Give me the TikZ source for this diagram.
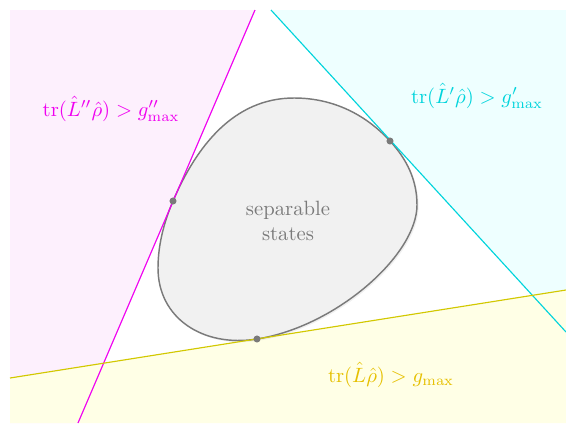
\documentclass[tikz,border=0pt]{standalone}
\usetikzlibrary{shadows}
\definecolor{sepMagenta}{HTML}{F000F0}
\definecolor{sepCyan}{HTML}{00D4DC}
\definecolor{sepYellow}{HTML}{D2C800}
\definecolor{sepGold}{HTML}{E6C000}
\definecolor{sepGray}{HTML}{7A7A7A}
\definecolor{sepPaleM}{HTML}{FDF0FD}
\definecolor{sepPaleC}{HTML}{EEFFFF}
\definecolor{sepPaleY}{HTML}{FFFFE6}
\definecolor{sepBlob}{HTML}{F1F1F1}
\tikzset{
  sep cut/.style={line width=0.55pt},
  sep dot/.style={circle, fill=sepGray, inner sep=0pt, minimum size=3.4pt},
  sep label/.style={inner sep=0pt},
}

\begin{document}
\begin{tikzpicture}[x=0.017cm, y=-0.017cm,
  blob/.style={draw=sepGray, fill=sepBlob, line width=0.7pt,
    drop shadow={opacity=0.12, shadow xshift=0.8pt, shadow yshift=-0.8pt}},
  blob text/.style={text=sepGray, align=center, font=\normalsize}
]
  \useasboundingbox (0,0) rectangle (566,423);

  % half-planes
  \fill[sepPaleM] (10,10) -- (255,10) -- (78,423) -- (10,423) -- cycle;
  \fill[sepPaleC] (271,10) -- (566,10) -- (566,332) -- cycle;
  \fill[sepPaleY] (10,378) -- (566,290) -- (566,423) -- (10,423) -- cycle;

  % convex set of separable states
  \draw[blob] (173,201) .. controls (196.6,145.9) and (234,98) .. (294,98)
    .. controls (334,98) and (366.3,115.2) .. (390,141)
    .. controls (406.9,159.4) and (417,180) .. (417,205)
    .. controls (417,255) and (336,326.5) .. (257,339)
    .. controls (202.7,347.6) and (158,318) .. (158,268)
    .. controls (158,243) and (165.1,219.4) .. (173,201) -- cycle;
  \node[blob text] (sep) at (288,221) {separable\\states};

  % witness hyperplanes
  \coordinate (mTop) at (255,10);
  \coordinate (mBot) at (78,423);
  \coordinate (cTop) at (271,10);
  \coordinate (cBot) at (566,332);
  \coordinate (yLeft) at (10,378);
  \coordinate (yRight) at (566,290);
  \draw[sep cut, sepMagenta] (mTop) -- (mBot);
  \draw[sep cut, sepCyan] (cTop) -- (cBot);
  \draw[sep cut, sepYellow] (yLeft) -- (yRight);

  \node[sep dot] (tM) at (173,201) {};
  \node[sep dot] (tC) at (390,141) {};
  \node[sep dot] (tY) at (257,339) {};

  \node[sep label, text=sepMagenta] (lM) at (111,109)
    {$\mathrm{tr}(\hat{L}''\hat{\rho}) > g''_{\max}$};
  \node[sep label, text=sepCyan] (lC) at (477,96)
    {$\mathrm{tr}(\hat{L}'\hat{\rho}) > g'_{\max}$};
  \node[sep label, text=sepGold] (lY) at (391,375)
    {$\mathrm{tr}(\hat{L}\hat{\rho}) > g_{\max}$};
\end{tikzpicture}
\end{document}
